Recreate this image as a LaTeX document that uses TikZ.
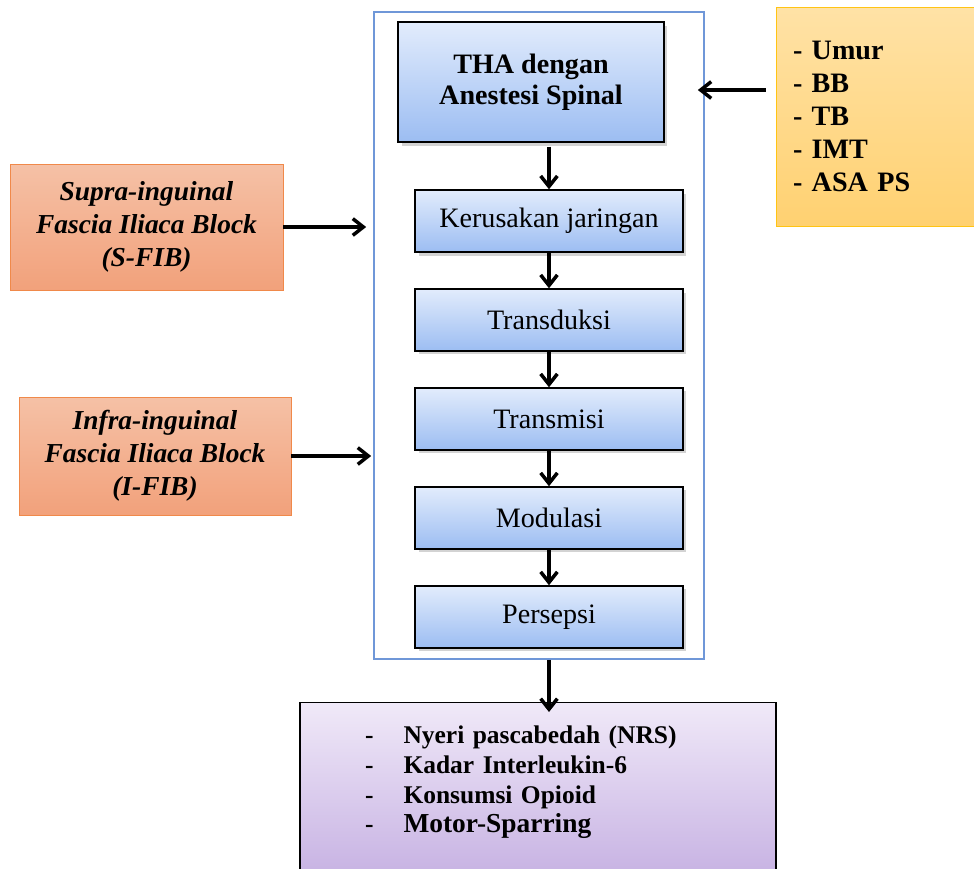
\documentclass[tikz,border=0pt]{standalone}
\usepackage{fontspec}
\setmainfont{Liberation Serif}
\usetikzlibrary{positioning, shadows, arrows.meta}

\definecolor{birumuda}{HTML}{E2ECFC}
\definecolor{birutua}{HTML}{9CBDF2}
\definecolor{bingkai}{HTML}{6F97D8}
\definecolor{oranyemuda}{HTML}{F5C1A6}
\definecolor{oranyetua}{HTML}{F2A17B}
\definecolor{oranyegaris}{HTML}{F0894A}
\definecolor{kuningmuda}{HTML}{FFE2A6}
\definecolor{kuningtua}{HTML}{FFD171}
\definecolor{kuninggaris}{HTML}{FFC414}
\definecolor{ungumuda}{HTML}{F0E9F8}
\definecolor{ungutua}{HTML}{C7B2E3}

\begin{document}
\begin{tikzpicture}[x=0.02cm, y=-0.02cm, node distance=1.98cm, on grid,
    >={Straight Barb[length=6pt, width=9.5pt]},
    proses/.style={draw=black, thick, top color=birumuda, bottom color=birutua,
        drop shadow={opacity=0.35, shadow xshift=2pt, shadow yshift=-2pt},
        minimum width=5.36cm, minimum height=1.24cm, align=center,
        font=\fontsize{16}{17.6}\selectfont},
    blok/.style={draw=oranyegaris, top color=oranyemuda, bottom color=oranyetua,
        align=center, font=\fontsize{15.6}{18.7}\selectfont\bfseries\itshape},
    panah/.style={->, line width=2pt}]
    \useasboundingbox (0,0) rectangle (974,869);

    % kerangka tengah
    \node[draw=bingkai, line width=1pt, minimum width=6.6cm, minimum height=12.94cm] (frame) at (539,335.5) {};

    \node[proses, minimum width=5.32cm, minimum height=2.4cm, font=\fontsize{16}{17.6}\selectfont\bfseries] (tha) at (531,82) {THA dengan\\Anestesi Spinal};
    \node[proses] (kerusakan) at (549,221) {Kerusakan jaringan};
    \node[proses, below=of kerusakan] (transduksi) {Transduksi};
    \node[proses, below=of transduksi] (transmisi) {Transmisi};
    \node[proses, below=of transmisi] (modulasi) {Modulasi};
    \node[proses, below=of modulasi] (persepsi) {Persepsi};

    % faktor dan intervensi
    \node[draw=kuninggaris, top color=kuningmuda, bottom color=kuningtua, minimum width=4.08cm, minimum height=4.38cm,
        inner xsep=0.34cm, text width=3.4cm, align=left, font=\fontsize{16}{18.7}\selectfont\bfseries] (faktor) at (878,116.5)
        {- Umur\\- BB\\- TB\\- IMT\\- ASA PS};
    \node[blok, minimum width=5.46cm, minimum height=2.52cm] (sfib) at (146.5,227) {Supra-inguinal\\Fascia Iliaca Block\\(S-FIB)};
    \node[blok, minimum width=5.44cm, minimum height=2.36cm] (ifib) at (155,456) {Infra-inguinal\\Fascia Iliaca Block\\(I-FIB)};

    % luaran
    \node[draw=black, thick, top color=ungumuda, bottom color=ungutua, anchor=north, minimum width=9.52cm,
        inner xsep=1.3cm, inner ysep=0.46cm, text width=6.92cm, text depth=2.2cm, align=left,
        font=\fontsize{14.5}{17}\selectfont\bfseries] (luaran) at (538,702)
        {-\hspace{0.6cm}Nyeri pascabedah (NRS)\\
         -\hspace{0.6cm}Kadar Interleukin-6\\
         -\hspace{0.6cm}Konsumsi Opioid\\
         -\hspace{0.6cm}{\fontsize{15.6}{17}\selectfont Motor-Sparring}};

    \coordinate (umurarr) at ([xshift=-0.2cm, yshift=0.53cm]faktor.west);

    \path
        (kerusakan |- tha.south) edge[panah, shorten <=0.08cm] (kerusakan.north)
        (kerusakan) edge[panah] (transduksi)
        (transduksi) edge[panah] (transmisi)
        (transmisi) edge[panah] (modulasi)
        (modulasi) edge[panah] (persepsi)
        (umurarr) edge[panah, shorten >=-0.14cm] (umurarr -| frame.east)
        (sfib) edge[panah, shorten >=0.14cm] (sfib -| frame.west)
        (ifib) edge[panah, shorten >=0.04cm] (ifib -| frame.west)
        (persepsi |- frame.south) edge[panah, shorten >=-0.2cm] (persepsi |- luaran.north);
\end{tikzpicture}
\end{document}
